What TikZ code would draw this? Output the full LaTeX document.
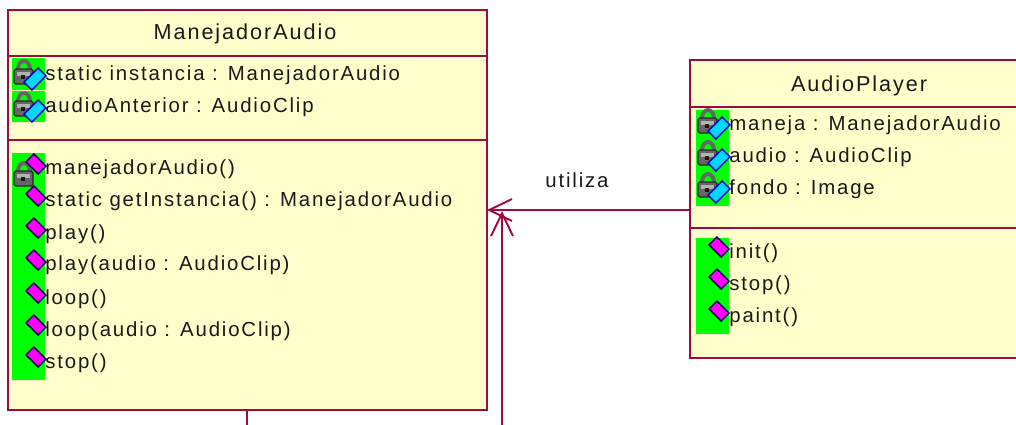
\documentclass[tikz,border=0pt]{standalone}
\usepackage{fontspec}
\setmainfont[LetterSpace=9]{Liberation Sans}
\usetikzlibrary{arrows.meta}
\definecolor{umlBorder}{HTML}{A00A40}
\definecolor{umlFill}{HTML}{FFFFCB}
\definecolor{iconGreen}{HTML}{00FF00}
\definecolor{iconCyan}{HTML}{00D8FF}
\definecolor{iconPink}{HTML}{FF00FF}
\tikzset{
    classbox/.style={draw=umlBorder,fill=umlFill,line width=1.1pt,inner sep=0pt,outer sep=0pt,anchor=north west},
    member/.style={inner sep=0pt,anchor=base west,font=\fontsize{11.6}{13}\selectfont,text=black!90},
    title/.style={inner sep=0pt,anchor=base,font=\fontsize{12.3}{14}\selectfont,text=black!90},
    sepline/.style={draw=umlBorder,line width=1pt},
    assoc/.style={draw=umlBorder,line width=1.1pt,-{Straight Barb[length=13pt,width=12.5pt,line width=1.1pt]}},
    lockicon/.pic={
        \draw[black!60,line width=2.2pt] (-6,-3) arc[start angle=180,end angle=360,x radius=6,y radius=8];
        \draw[black!85,fill=black!60,rounded corners=1pt,line width=0.7pt] (-10,-3) rectangle (9,12);
        \fill[black!30] (-7,0) rectangle (6,4);
        \fill[black!90] (-3,3) rectangle (1,7);
    },
    pics/gemicon/.style={code={
        \draw[blue!80!black,fill=iconCyan,line width=0.8pt,rotate=45] (-10,-5.5) rectangle (10,5.5);
    }},
    pics/opicon/.style={code={
        \draw[black!70!blue,fill=iconPink,line width=0.8pt,rotate=-45] (-8.5,-5.5) rectangle (8.5,5.5);
    }},
}
\begin{document}
\begin{tikzpicture}[x=0.02cm,y=-0.02cm]
    \useasboundingbox (0,0) rectangle (1016,425);
    \clip (0,0) rectangle (1016,425);
    % the two classes
    \node[classbox,minimum width=9.58cm,minimum height=8cm] (manejadorAudio) at (8,10) {};
    \node[classbox,minimum width=6.8cm,minimum height=5.96cm] (audioPlayer) at (690,60) {};
    \coordinate (freeA) at (247,425);
    \coordinate (freeB) at (502,425);
    \coordinate (tipB) at (502,211);
    \coordinate (tipA) at (manejadorAudio.east |- 0,210);
    \draw[sepline] (8,56) -- (487,56);
    \draw[sepline] (8,140) -- (487,140);
    \draw[sepline] (690,107) -- (1030,107);
    \draw[sepline] (690,228) -- (1030,228);
    % green strips behind the icons
    \fill[iconGreen] (12,58) rectangle (45,90);
    \fill[iconGreen] (12,91) rectangle (45,122);
    \fill[iconGreen] (12,153) rectangle (45,380);
    \fill[iconGreen] (696,110) rectangle (729,206);
    \fill[iconGreen] (696,238) rectangle (729,334);
    % titles
    \node[title] (manejadorTitle) at (245,40) {ManejadorAudio};
    \node[title] (playerTitle) at (859,92) {AudioPlayer};
    % attributes
    \foreach \i/\y/\txt in {1/74/static instancia : ManejadorAudio,2/106/audioAnterior : AudioClip} {
        \pic at (24,\y-2) {lockicon};
        \pic at (35,\y+5) {gemicon};
        \node[member] (attrA\i) at (45,\y+7) {\txt};
    }
    \foreach \i/\y/\txt in {1/123/maneja : ManejadorAudio,2/155/audio : AudioClip,3/187/fondo : Image} {
        \pic at (708,\y-2) {lockicon};
        \pic at (719,\y+5) {gemicon};
        \node[member] (attrB\i) at (729,\y+8) {\txt};
    }
    % operations
    \pic at (24,174) {lockicon};
    \foreach \i/\y/\txt in {1/168/manejadorAudio(),2/200/static getInstancia() : ManejadorAudio,3/232/play(),4/264/play(audio : AudioClip),5/297/loop(),6/329/loop(audio : AudioClip),7/361/stop()} {
        \pic at (36,\y-4) {opicon};
        \node[member] (opA\i) at (45,\y+7) {\txt};
    }
    \foreach \i/\y/\txt in {1/251/init(),2/283/stop(),3/315/paint()} {
        \pic at (719,\y-4) {opicon};
        \node[member] (opB\i) at (729,\y+7) {\txt};
    }
    % connectors
    \node[member,anchor=base] (utilizaLabel) at (577,188) {utiliza};
    \draw[assoc] (audioPlayer.west |- tipA) -- (tipA);
    \draw[assoc] (freeB) -- (tipB);
    \draw[sepline] (manejadorAudio.south -| freeA) -- (freeA);
\end{tikzpicture}
\end{document}
